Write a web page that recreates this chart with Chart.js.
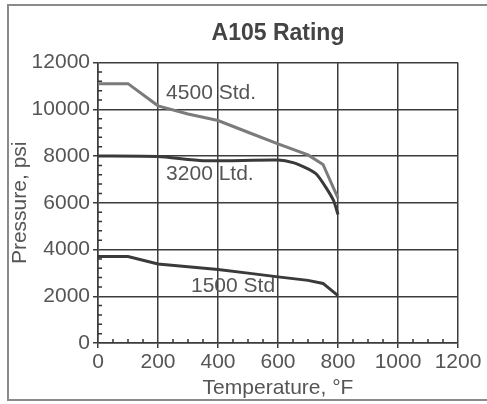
<!DOCTYPE html>
<html>
<head>
<meta charset="utf-8">
<script src="https://cdn.jsdelivr.net/npm/chart.js@4"></script>
<style>
html,body{margin:0;padding:0;background:#fff;}
canvas{display:block;}
</style>
</head>
<body>
<canvas id="c" width="487" height="404"></canvas>
<script>
// ---- data ----
const temps4500 = [0, 100, 200, 300, 400, 500, 600, 700, 750, 800];
const press4500 = [11100, 11100, 10150, 9800, 9520, 9020, 8520, 8050, 7640, 6200];

const temps3200 = [0, 200, 350, 600, 650, 700, 730, 760, 785, 800];
const press3200 = [8000, 7980, 7800, 7830, 7720, 7450, 7200, 6650, 6100, 5500];

const temps1500 = [0, 100, 200, 300, 400, 500, 600, 700, 750, 800];
const press1500 = [3700, 3700, 3380, 3260, 3150, 2990, 2830, 2680, 2550, 2030];

const seriesNames = ['4500 Std.', '3200 Ltd.', '1500 Std'];
const xTicks = [0, 200, 400, 600, 800, 1000, 1200];
const yTicks = [0, 2000, 4000, 6000, 8000, 10000, 12000];

// in-plot series labels (data units)
const labelTemps = [227, 227, 310];
const labelPress = [10680, 7240, 2420];

const FONT = '"Liberation Sans", Arial, Helvetica, sans-serif';
const toPts = (xs, ys) => xs.map((x, i) => ({x: x, y: ys[i]}));

const framePlugin = {
  id: 'frame',
  beforeDraw(chart) {
    const ctx = chart.ctx;
    ctx.save();
    ctx.fillStyle = '#fff';
    ctx.fillRect(0, 0, chart.width, chart.height);
    ctx.strokeStyle = '#8a8a8a';
    ctx.lineWidth = 2;
    ctx.strokeRect(8, 5, chart.width + 10, chart.height - 9);
    ctx.restore();
  }
};

const minorTicksPlugin = {
  id: 'minorTicks',
  beforeDatasetsDraw(chart) {
    const {ctx, scales: {x, y}, chartArea} = chart;
    ctx.save();
    ctx.strokeStyle = '#333';
    ctx.lineWidth = 1.5;
    ctx.beginPath();
    for (let v = 0; v <= 12000; v += 400) {
      if (v % 2000 === 0) continue;
      const py = y.getPixelForValue(v);
      ctx.moveTo(chartArea.left, py);
      ctx.lineTo(chartArea.left + 4, py);
    }
    for (let v = 0; v <= 1200; v += 50) {
      if (v % 200 === 0) continue;
      const px = x.getPixelForValue(v);
      ctx.moveTo(px, chartArea.bottom);
      ctx.lineTo(px, chartArea.bottom - 4);
    }
    ctx.stroke();
    ctx.restore();
  }
};

const seriesLabelPlugin = {
  id: 'seriesLabels',
  afterDatasetsDraw(chart) {
    const {ctx, scales: {x, y}} = chart;
    ctx.save();
    ctx.font = '21px ' + FONT;
    ctx.fillStyle = '#555';
    ctx.textAlign = 'left';
    ctx.textBaseline = 'middle';
    seriesNames.forEach((n, i) => {
      ctx.fillText(n, x.getPixelForValue(labelTemps[i]), y.getPixelForValue(labelPress[i]));
    });
    ctx.restore();
  }
};

new Chart(document.getElementById('c'), {
  type: 'line',
  data: {
    datasets: [
      {label: seriesNames[0], data: toPts(temps4500, press4500), borderColor: '#7b7b7b', borderWidth: 3, pointRadius: 0, tension: 0},
      {label: seriesNames[1], data: toPts(temps3200, press3200), borderColor: '#3a3a3a', borderWidth: 3, pointRadius: 0, tension: 0.2},
      {label: seriesNames[2], data: toPts(temps1500, press1500), borderColor: '#3a3a3a', borderWidth: 3, pointRadius: 0, tension: 0}
    ]
  },
  options: {
    responsive: false,
    devicePixelRatio: 1,
    animation: false,
    layout: {padding: {left: 0, right: 29, top: 0, bottom: 0}},
    plugins: {
      legend: {display: false},
      tooltip: {enabled: false},
      title: {
        display: true,
        text: 'A105 Rating',
        fullSize: false,
        color: '#444',
        font: {family: FONT, size: 23, weight: 'bold'},
        padding: {top: 20, bottom: 15}
      }
    },
    scales: {
      x: {
        type: 'linear',
        min: 0, max: 1200,
        afterBuildTicks: (s) => { s.ticks = xTicks.map(v => ({value: v})); },
        afterFit: (s) => { s.height = 61; },
        ticks: {color: '#555', font: {family: FONT, size: 21}, padding: 2, maxRotation: 0, callback: (v) => String(v)},
        grid: {color: '#3c3c3c', lineWidth: 1.5, tickLength: 5, tickColor: '#3c3c3c'},
        border: {color: '#3c3c3c', width: 1.5},
        title: {display: true, text: 'Temperature, °F', color: '#555', font: {family: FONT, size: 21}, padding: {top: 0, bottom: 3}}
      },
      y: {
        min: 0, max: 12000,
        afterBuildTicks: (s) => { s.ticks = yTicks.map(v => ({value: v})); },
        afterFit: (s) => { s.width = 98; },
        ticks: {color: '#555', font: {family: FONT, size: 21}, padding: 3, callback: (v) => String(v)},
        grid: {color: '#3c3c3c', lineWidth: 1.5, tickLength: 5, tickColor: '#3c3c3c'},
        border: {color: '#3c3c3c', width: 1.5},
        title: {display: true, text: 'Pressure, psi', color: '#555', font: {family: FONT, size: 21}, padding: {top: 8, bottom: 0}}
      }
    }
  },
  plugins: [framePlugin, minorTicksPlugin, seriesLabelPlugin]
});
</script>
</body>
</html>
